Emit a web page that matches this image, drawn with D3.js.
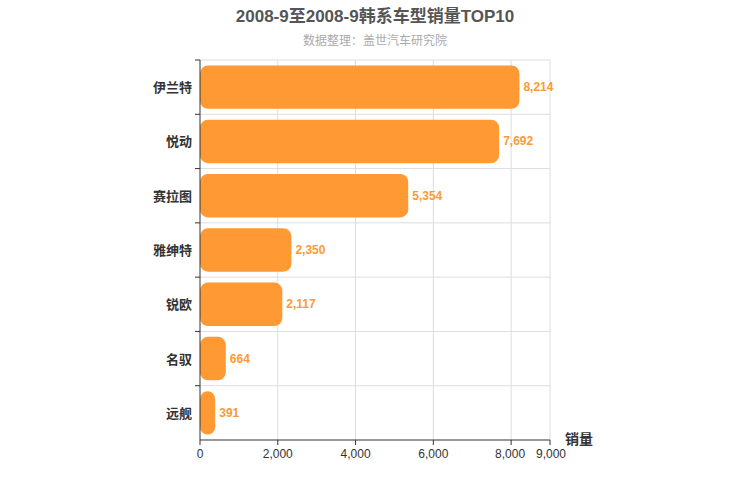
<!DOCTYPE html>
<html><head><meta charset="utf-8">
<script src="https://cdn.jsdelivr.net/npm/d3@7"></script>
<style>body{margin:0;background:#fff;font-family:"Liberation Sans","Noto Sans CJK SC",sans-serif;}</style>
</head><body><div id="chart"></div>
<script>
var categories = ["伊兰特","悦动","赛拉图","雅绅特","锐欧","名驭","远舰"];
var sales = [8214,7692,5354,2350,2117,664,391];
var xTicks = [0,2000,4000,6000,8000,9000];

var svg = d3.select("#chart").append("svg").attr("width",750).attr("height",500);
var pLeft = 200, pRight = 550, pTop = 60, pBottom = 440;

var x = d3.scaleLinear().domain([0,9000]).range([pLeft,pRight]);
var y = d3.scaleBand().domain(categories).range([pTop,pBottom]).paddingInner(0.2).paddingOuter(0.1);
var band = d3.scaleBand().domain(categories).range([pTop,pBottom]);

// grid
svg.selectAll(".vg").data(xTicks.slice(1)).enter().append("line")
	.attr("x1",d=>x(d)).attr("x2",d=>x(d)).attr("y1",pTop).attr("y2",pBottom)
	.style("stroke","#ddd");
svg.selectAll(".hg").data(categories).enter().append("line")
	.attr("x1",pLeft).attr("x2",pRight).attr("y1",d=>band(d)).attr("y2",d=>band(d))
	.style("stroke","#ddd");

// bars
svg.selectAll(".bar").data(sales).enter().append("rect")
	.attr("x",pLeft).attr("y",(d,i)=>y(categories[i]))
	.attr("width",d=>x(d)-pLeft).attr("height",y.bandwidth())
	.attr("rx",8).attr("ry",8)
	.style("fill","#ff9933");

svg.selectAll(".val").data(sales).enter().append("text")
	.attr("x",d=>x(d)+4).attr("y",(d,i)=>y(categories[i])+y.bandwidth()/2+4)
	.style("font-size","12px").style("font-weight","bold").style("fill","#ff9933")
	.text(d=>d3.format(",")(d));

// axes
svg.append("line").attr("x1",pLeft).attr("x2",pLeft).attr("y1",pTop).attr("y2",pBottom).style("stroke","#333");
svg.append("line").attr("x1",pLeft).attr("x2",pRight).attr("y1",pBottom).attr("y2",pBottom).style("stroke","#333");

svg.selectAll(".xt").data(xTicks).enter().append("text")
	.attr("x",d=>x(d)).attr("y",pBottom+18).attr("text-anchor",d=>d==8000?"end":(d==9000?"start":"middle"))
	.attr("dx",d=>d==8000?14:(d==9000?-14:0))
	.style("font-size","12px").style("fill","#333")
	.text(d=>d3.format(",")(d));
svg.selectAll(".xtk").data(xTicks).enter().append("line")
	.attr("x1",d=>x(d)).attr("x2",d=>x(d)).attr("y1",pBottom).attr("y2",pBottom+5).style("stroke","#333");

svg.selectAll(".yl").data(categories).enter().append("text")
	.attr("x",pLeft-8).attr("y",d=>band(d)+band.bandwidth()/2+5).attr("text-anchor","end")
	.style("font-size","13px").style("font-weight","bold").style("fill","#333")
	.text(d=>d);
svg.selectAll(".ytk").data(categories).enter().append("line")
	.attr("x1",pLeft-5).attr("x2",pLeft).attr("y1",d=>band(d)).attr("y2",d=>band(d)).style("stroke","#333");

svg.append("text").attr("x",565).attr("y",444).style("font-size","14px").style("font-weight","bold").style("fill","#333").text("销量");

svg.append("text").attr("x",375).attr("y",22).attr("text-anchor","middle")
	.style("font-size","17px").style("font-weight","bold").style("fill","#555").text("2008-9至2008-9韩系车型销量TOP10");
svg.append("text").attr("x",375).attr("y",45).attr("text-anchor","middle")
	.style("font-size","12px").style("fill","#aaa").text("数据整理：盖世汽车研究院");
</script></body></html>
